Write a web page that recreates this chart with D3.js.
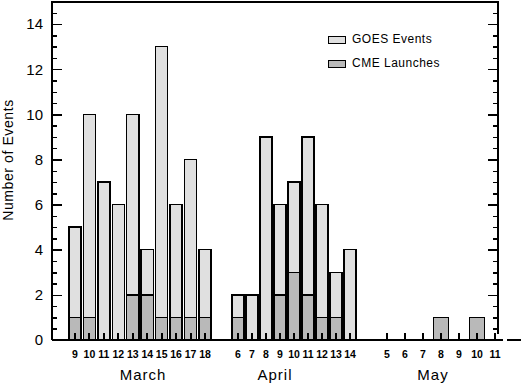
<!DOCTYPE html>
<html>
<head>
<meta charset="utf-8">
<script src="https://cdn.jsdelivr.net/npm/d3@7"></script>
<style>
  body { margin: 0; background: #fff; }
  text { font-family: "Liberation Sans", Arial, sans-serif; fill: #000; }
</style>
</head>
<body>
<div id="chart"></div>
<script>
// data
var marchDays = ['9','10','11','12','13','14','15','16','17','18'];
var marchGoes = [5, 10, 7, 6, 10, 4, 13, 6, 8, 4];
var marchCme  = [1, 1, 0, 0, 2, 2, 1, 1, 1, 1];

var aprilDays = ['6','7','8','9','10','11','12','13','14'];
var aprilGoes = [2, 2, 9, 6, 7, 9, 6, 3, 4];
var aprilCme  = [1, 0, 0, 2, 3, 2, 1, 1, 0];

var mayDays = ['5','6','7','8','9','10','11'];
var mayGoes = [0, 0, 0, 0, 0, 0, 0];
var mayCme  = [0, 0, 0, 1, 0, 1, 0];

var monthNames = ['March', 'April', 'May'];
var legendLabels = ['GOES Events', 'CME Launches'];
var yLabels = [0, 2, 4, 6, 8, 10, 12, 14];

var W = 521, H = 385;
var goesFill = '#e0e0e0', cmeFill = '#b9b9b9';
var left = 52, right = 498, base = 340;

var svg = d3.select('#chart').append('svg')
	.attr('width', W)
	.attr('height', H);

var y = d3.scaleLinear().domain([0, 15]).range([base, 1.5]);

// each month has its own strip along the bottom
var months = [
	{ name: monthNames[0], days: marchDays, goes: marchGoes, cme: marchCme, range: [75, 205], labelX: 143 },
	{ name: monthNames[1], days: aprilDays, goes: aprilGoes, cme: aprilCme, range: [238, 350], labelX: 275 },
	{ name: monthNames[2], days: mayDays, goes: mayGoes, cme: mayCme, range: [387, 495], labelX: 433 }
];

function drawBars(g, x, days, vals, fill, w)
{
	g.selectAll(null)
		.data(days.map(function(d, i) { return [d, vals[i]]; }).filter(function(p) { return p[1] > 0; }))
		.enter().append('rect')
		.attr('x', function(p) { return x(p[0]) - w/2; })
		.attr('y', function(p) { return y(p[1]); })
		.attr('width', w)
		.attr('height', function(p) { return y(0) - y(p[1]); })
		.attr('fill', fill)
		.attr('stroke', '#000')
		.attr('stroke-width', 1.5)
		.attr('shape-rendering', 'crispEdges');
}

months.forEach(function(m) {
	var x = d3.scalePoint().domain(m.days).range(m.range);
	var w = x.step() * 0.84;
	var g = svg.append('g');

	drawBars(g, x, m.days, m.goes, goesFill, w);
	drawBars(g, x, m.days, m.cme, cmeFill, w);

	// small day ticks, on top of the bars
	g.selectAll('line.day')
		.data(m.days)
		.enter().append('line')
		.attr('x1', function(d) { return Math.round(x(d)); })
		.attr('x2', function(d) { return Math.round(x(d)); })
		.attr('y1', base - 7)
		.attr('y2', base)
		.attr('stroke', '#000')
		.attr('stroke-width', 1.5)
		.attr('shape-rendering', 'crispEdges');

	g.selectAll('text.day')
		.data(m.days)
		.enter().append('text')
		.attr('x', function(d) { return x(d); })
		.attr('y', 358)
		.attr('text-anchor', 'middle')
		.style('font-size', '10.5px')
		.style('font-weight', 'bold')
		.text(function(d) { return d; });

	g.append('text')
		.attr('x', m.labelX)
		.attr('y', 380)
		.attr('text-anchor', 'middle')
		.style('font-size', '15px')
		.style('letter-spacing', '1px')
		.text(m.name);
});

// left axis: labelled majors and half-unit minor ticks pointing inward
var minorVals = d3.range(0, 15, 0.5);

var gl = svg.append('g').attr('transform', 'translate(' + left + ',0)');
gl.call(d3.axisLeft(y).tickValues(minorVals).tickSizeInner(-5).tickSizeOuter(0).tickFormat(''));
gl.call(function(g) { g.select('.domain').remove(); });
var gl2 = svg.append('g').attr('transform', 'translate(' + left + ',0)');
gl2.call(d3.axisLeft(y).tickValues(yLabels).tickSizeInner(-10).tickSizeOuter(0).tickPadding(9));
gl2.select('.domain').remove();
gl2.selectAll('text')
	.style('font-family', '"Liberation Sans", Arial, sans-serif')
	.style('font-size', '15px');

// right axis, ticks only
var gr = svg.append('g').attr('transform', 'translate(' + right + ',0)');
gr.call(d3.axisRight(y).tickValues(minorVals).tickSizeInner(-5).tickSizeOuter(0).tickFormat(''));
gr.select('.domain').remove();
var gr2 = svg.append('g').attr('transform', 'translate(' + right + ',0)');
gr2.call(d3.axisRight(y).tickValues(yLabels).tickSizeInner(-10).tickSizeOuter(0).tickFormat(''));
gr2.select('.domain').remove();

svg.selectAll('.tick line')
	.attr('stroke-width', 1.5)
	.attr('shape-rendering', 'crispEdges');

// frame lines
var frame = [
	[left, y(15) - 0.5, left, base],
	[left, y(15), right, y(15)],
	[right, y(15) - 0.5, right, base - 6],
	[left, base, 503, base],
	[507, base, W, base]
];
svg.selectAll('line.frame')
	.data(frame)
	.enter().append('line')
	.attr('x1', function(d) { return d[0]; })
	.attr('y1', function(d) { return d[1]; })
	.attr('x2', function(d) { return d[2]; })
	.attr('y2', function(d) { return d[3]; })
	.attr('stroke', '#000')
	.attr('stroke-width', 2)
	.attr('shape-rendering', 'crispEdges');

// y title
svg.append('text')
	.attr('transform', 'translate(13,160) rotate(-90)')
	.attr('text-anchor', 'middle')
	.style('font-size', '14px')
	.style('letter-spacing', '0.6px')
	.text('Number of Events');

// legend
var legend = svg.append('g').attr('transform', 'translate(328,36)');
legendLabels.forEach(function(lbl, i) {
	legend.append('rect')
		.attr('x', 0)
		.attr('y', i * 24)
		.attr('width', 17)
		.attr('height', 7)
		.attr('fill', i == 0 ? goesFill : cmeFill)
		.attr('stroke', '#000')
		.attr('stroke-width', 1)
		.attr('shape-rendering', 'crispEdges');
	legend.append('text')
		.attr('x', 24)
		.attr('y', i * 24 + 7)
		.style('font-size', '12px')
		.style('letter-spacing', '0.5px')
		.text(lbl);
});
</script>
</body>
</html>
